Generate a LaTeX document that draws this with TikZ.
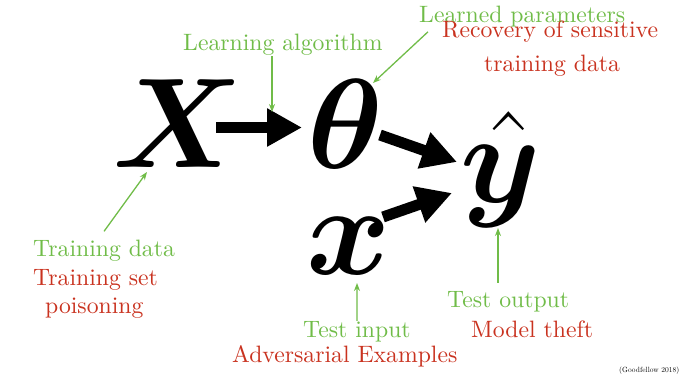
\RequirePackage{fix-cm}
\documentclass[tikz,border=0pt]{standalone}
\usepackage{bm}
\usetikzlibrary{arrows.meta,calc}
\definecolor{lgreen}{RGB}{112,188,72}
\definecolor{lred}{RGB}{201,50,31}
\newcommand{\lab}[1]{\scalebox{2.37}{#1}}
\begin{document}
\begin{tikzpicture}[x=1pt,y=-1pt,
  big/.style={inner sep=0pt,anchor=base west,font=\fontsize{128}{128}\selectfont},
  glab/.style={inner sep=0pt,anchor=base west,text=lgreen,font=\fontsize{10}{12}\selectfont},
  rlab/.style={inner sep=0pt,anchor=base west,text=lred,font=\fontsize{10}{12}\selectfont},
  bigarrow/.style={line width=11pt,-{Triangle[length=35pt,width=36pt]}},
  garrow/.style={draw=lgreen,line width=1.3pt,-{Stealth[length=8pt,width=6pt]}}]
\useasboundingbox (0,0) rectangle (682,377);
% main symbols
\node[big] (X) at (112,167) {$\bm{X}$};
\node[big] (theta) at (307,168) {$\bm{\theta}$};
\node[big] (yhat) at (460,202) {$\hat{\bm{y}}$};
\node[big] (x) at (306,274) {$\bm{x}$};
% labels
\node[glab] (la) at (183,51) {\lab{Learning algorithm}};
\node[glab] (lp) at (419,23) {\lab{Learned parameters}};
\node[rlab] (rs) at (442,38) {\lab{Recovery of sensitive}};
\node[rlab] (rs2) at (484,72) {\lab{training data}};
\node[glab] (td) at (33,256) {\lab{Training data}};
\node[rlab] (ts) at (33,285) {\lab{Training set}};
\node[rlab] (tp) at (45,313) {\lab{poisoning}};
\node[glab] (ti) at (303,337) {\lab{Test input}};
\node[rlab] (ae) at (232,362) {\lab{Adversarial Examples}};
\node[glab] (to) at (447,307) {\lab{Test output}};
\node[rlab] (mt) at (471,337) {\lab{Model theft}};
\node[inner sep=0pt,anchor=base west,font=\fontsize{10}{12}\selectfont] (cite) at (619,372) {\scalebox{0.75}{(Goodfellow 2018)}};
% black arrows
\draw[bigarrow] ([shift={(104,-39.5)}]X.base west) -- ([shift={(-5,-40.5)}]theta.base west);
\draw[bigarrow] ([shift={(73,-33)}]theta.base west) -- ([shift={(-3,-40)}]yhat.base west);
\draw[bigarrow] ([shift={(77,-57)}]x.base west) -- ([shift={(-8,-9)}]yhat.base west);
% green arrows
\coordinate (latip) at (272,112);
\draw[garrow] (la.south -| latip) -- (latip);
\coordinate (lptip) at (373,83);
\draw[garrow] ([shift={(9,4)}]lp.south west) -- (lptip);
\coordinate (tdtip) at (147,172);
\draw[garrow] ([yshift=8pt]td.north) -- (tdtip);
\coordinate (titip) at (357,283);
\draw[garrow] (ti.north) -- (titip);
\coordinate (totip) at (498,228);
\draw[garrow] ([yshift=8pt]to.north -| totip) -- (totip);
\end{tikzpicture}
\end{document}
